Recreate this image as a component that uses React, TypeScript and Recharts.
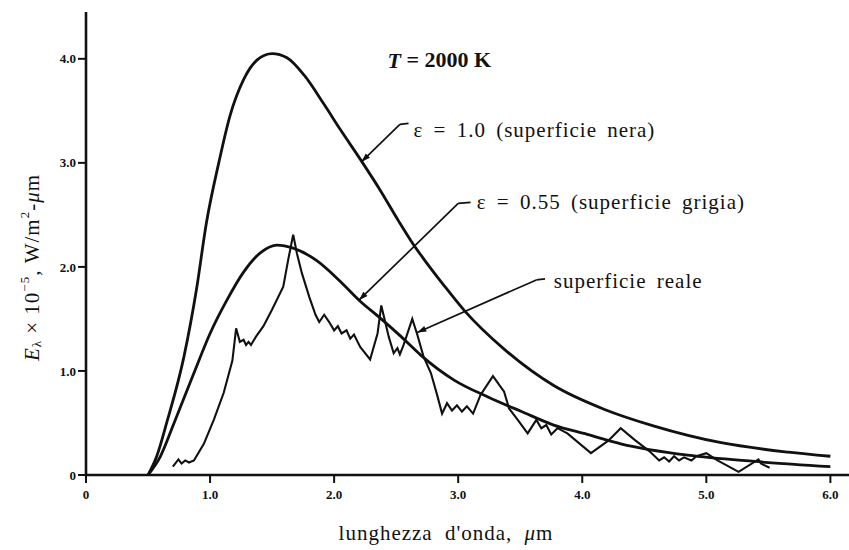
import React from "react";
import { LineChart, Line, XAxis, YAxis, ReferenceLine, ReferenceDot } from "recharts";

const FONT = '"Liberation Serif", "DejaVu Serif", "Times New Roman", serif';
const INK = "#111";

// ---- data (lambda in um, E_lambda x 1e-5 W/m2-um) ----
const blackLambda = [0.5, 0.57, 0.65, 0.79, 0.89, 0.97, 1.07, 1.16, 1.27, 1.38, 1.5, 1.62, 1.76, 1.92, 2.05, 2.23, 2.37, 2.52, 2.62, 2.72, 2.88, 3.05, 3.37, 3.77, 4.18, 4.58, 5.12, 5.66, 6.0];
const blackE = [0.0, 0.18, 0.5, 1.14, 1.78, 2.42, 3.0, 3.45, 3.8, 3.99, 4.05, 4.01, 3.84, 3.56, 3.32, 3.0, 2.74, 2.44, 2.25, 2.08, 1.83, 1.58, 1.21, 0.86, 0.63, 0.47, 0.31, 0.22, 0.18];

const greyLambda = [0.5, 0.6, 0.71, 0.87, 1.0, 1.14, 1.27, 1.41, 1.54, 1.67, 1.86, 2.05, 2.21, 2.37, 2.54, 2.7, 2.97, 3.24, 3.51, 3.77, 4.04, 4.31, 4.85, 5.39, 6.0];
const greyE = [0.0, 0.18, 0.5, 0.98, 1.36, 1.69, 1.95, 2.14, 2.21, 2.18, 2.06, 1.86, 1.67, 1.51, 1.33, 1.15, 0.91, 0.75, 0.61, 0.48, 0.39, 0.3, 0.19, 0.13, 0.08];

const realLambda = [0.7, 0.745, 0.77, 0.8, 0.83, 0.87, 0.95, 1.03, 1.11, 1.18, 1.21, 1.24, 1.27, 1.29, 1.31, 1.33, 1.37, 1.43, 1.5, 1.59, 1.63, 1.67, 1.7, 1.74, 1.8, 1.85, 1.88, 1.92, 1.96, 2.0, 2.03, 2.06, 2.1, 2.13, 2.16, 2.21, 2.29, 2.35, 2.38, 2.44, 2.48, 2.51, 2.53, 2.56, 2.63, 2.67, 2.72, 2.78, 2.83, 2.87, 2.91, 2.95, 2.99, 3.03, 3.07, 3.12, 3.18, 3.28, 3.37, 3.41, 3.48, 3.56, 3.63, 3.67, 3.71, 3.75, 3.8, 3.88, 4.07, 4.21, 4.31, 4.42, 4.54, 4.62, 4.66, 4.7, 4.74, 4.78, 4.82, 4.88, 4.92, 5.0, 5.09, 5.26, 5.42, 5.44, 5.51];
const realE = [0.08, 0.15, 0.11, 0.14, 0.12, 0.14, 0.3, 0.53, 0.79, 1.1, 1.41, 1.28, 1.3, 1.25, 1.28, 1.25, 1.33, 1.43, 1.59, 1.81, 2.07, 2.31, 2.13, 1.94, 1.71, 1.54, 1.47, 1.54, 1.47, 1.39, 1.43, 1.36, 1.39, 1.31, 1.35, 1.23, 1.11, 1.36, 1.63, 1.33, 1.17, 1.22, 1.16, 1.25, 1.5, 1.35, 1.14, 0.98, 0.77, 0.59, 0.69, 0.62, 0.67, 0.61, 0.66, 0.59, 0.77, 0.95, 0.8, 0.64, 0.53, 0.4, 0.53, 0.45, 0.48, 0.39, 0.45, 0.4, 0.21, 0.33, 0.45, 0.34, 0.23, 0.14, 0.17, 0.13, 0.18, 0.14, 0.17, 0.14, 0.18, 0.21, 0.14, 0.03, 0.15, 0.11, 0.07];

const xTicks = [0, 1, 2, 3, 4, 5, 6];
const yTicks = [0, 1, 2, 3, 4];

const toRows = (xs: number[], ys: number[]) => xs.map((x, i) => ({ x, y: ys[i] }));
const blackData = toRows(blackLambda, blackE);
const greyData = toRows(greyLambda, greyE);
const realData = toRows(realLambda, realE);

// leader lines: [tip, elbow, end] in data units
const leaders = [
  { id: "nera", pts: [[2.22, 3.01], [2.53, 3.37], [2.6, 3.38]] },
  { id: "grigia", pts: [[2.2, 1.68], [3.0, 2.61], [3.1, 2.62]] },
  { id: "reale", pts: [[2.67, 1.37], [3.63, 1.875], [3.7, 1.885]] },
];

// arrow-tipped line, arrow at (x1, y1)
function ArrowLine(props: any) {
  const { x1, y1, x2, y2 } = props;
  if ([x1, y1, x2, y2].some((v) => typeof v !== "number" || isNaN(v))) return null;
  const a = Math.atan2(y1 - y2, x1 - x2);
  const len = 9;
  const half = 3;
  const bx = x1 - len * Math.cos(a);
  const by = y1 - len * Math.sin(a);
  const px = -Math.sin(a) * half;
  const py = Math.cos(a) * half;
  return (
    <g>
      <line x1={x1} y1={y1} x2={x2} y2={y2} stroke={INK} strokeWidth={1.7} />
      <polygon points={`${x1},${y1} ${bx + px},${by + py} ${bx - px},${by - py}`} fill={INK} />
    </g>
  );
}

function PlainLine(props: any) {
  const { x1, y1, x2, y2 } = props;
  if ([x1, y1, x2, y2].some((v) => typeof v !== "number" || isNaN(v))) return null;
  return <line x1={x1} y1={y1} x2={x2} y2={y2} stroke={INK} strokeWidth={1.7} />;
}

const textLabel = (children: React.ReactNode, bold = false) => (props: any) => {
  const vb = props.viewBox || {};
  return (
    <text
      x={vb.x}
      y={vb.y}
      dominantBaseline="central"
      fontFamily={FONT}
      fontSize={bold ? 22 : 21}
      fontWeight={bold ? "bold" : "normal"}
      letterSpacing={bold ? 0 : 1}
      wordSpacing={bold ? 0 : 4}
      fill={INK}
    >
      {children}
    </text>
  );
};

const YTitle = (props: any) => {
  const vb = props.viewBox || { x: 0, y: 0, width: 0, height: 0 };
  const cx = vb.x + 6;
  const cy = vb.y + vb.height / 2 + 24;
  return (
    <text
      x={cx}
      y={cy}
      transform={`rotate(-90, ${cx}, ${cy})`}
      textAnchor="middle"
      dominantBaseline="central"
      fontFamily={FONT}
      fontSize={21}
      letterSpacing={1}
      fill={INK}
    >
      <tspan fontStyle="italic">E</tspan>
      <tspan fontSize={13} dy={4}>λ</tspan>
      <tspan dy={-4}> × 10</tspan>
      <tspan fontSize={13} dy={-8}>−5</tspan>
      <tspan dy={8}>,  W/m</tspan>
      <tspan fontSize={13} dy={-8}>2</tspan>
      <tspan dy={8}>-</tspan>
      <tspan fontStyle="italic">μ</tspan>
      <tspan>m</tspan>
    </text>
  );
};

const XTitle = (props: any) => {
  const vb = props.viewBox || { x: 0, y: 0, width: 0, height: 0 };
  return (
    <text
      x={vb.x + 360}
      y={vb.y + 58}
      textAnchor="middle"
      dominantBaseline="central"
      fontFamily={FONT}
      fontSize={21}
      letterSpacing={1}
      wordSpacing={6}
      fill={INK}
    >
      lunghezza d'onda, <tspan fontStyle="italic">μ</tspan>m
    </text>
  );
};

const fmt = (v: number) => (v === 0 ? "0" : v.toFixed(1));
const tickStyle = { fontFamily: FONT, fontSize: 13, fontWeight: "bold", fill: INK };

export default function App() {
  return (
    <div style={{ position: "absolute", left: 0, top: 0, width: 849, height: 550, background: "#fff" }}>
      <LineChart width={849} height={550} margin={{ top: 12, right: 0, bottom: 35, left: 26 }}>
        <XAxis
          type="number"
          dataKey="x"
          domain={[0, 6.15]}
          ticks={xTicks}
          tickFormatter={fmt}
          allowDataOverflow
          height={40}
          stroke={INK}
          strokeWidth={2.6}
          tickSize={8}
          tick={{ ...tickStyle, dy: 5 }}
          tickLine={{ stroke: INK, strokeWidth: 2 }}
          label={<XTitle />}
        />
        <YAxis
          type="number"
          dataKey="y"
          domain={[0, 4.45]}
          ticks={yTicks}
          tickFormatter={fmt}
          allowDataOverflow
          width={60}
          stroke={INK}
          strokeWidth={2.6}
          tickSize={8}
          tick={tickStyle}
          tickLine={{ stroke: INK, strokeWidth: 2 }}
          label={<YTitle />}
        />
        <Line data={blackData} dataKey="y" type="monotone" stroke={INK} strokeWidth={2.8} dot={false} isAnimationActive={false} />
        <Line data={greyData} dataKey="y" type="monotone" stroke={INK} strokeWidth={2.8} dot={false} isAnimationActive={false} />
        <Line data={realData} dataKey="y" type="linear" stroke={INK} strokeWidth={2.1} dot={false} isAnimationActive={false} />
        {leaders.map((l) => (
          <ReferenceLine
            key={l.id + "a"}
            segment={[{ x: l.pts[0][0], y: l.pts[0][1] }, { x: l.pts[1][0], y: l.pts[1][1] }]}
            shape={<ArrowLine />}
          />
        ))}
        {leaders.map((l) => (
          <ReferenceLine
            key={l.id + "b"}
            segment={[{ x: l.pts[1][0], y: l.pts[1][1] }, { x: l.pts[2][0], y: l.pts[2][1] }]}
            shape={<PlainLine />}
          />
        ))}
        <ReferenceDot
          x={2.43}
          y={3.99}
          r={0}
          stroke="none"
          label={{
            content: textLabel(
              <>
                <tspan fontStyle="italic">T</tspan> = 2000 K
              </>,
              true
            ),
          }}
        />
        <ReferenceDot
          x={2.64}
          y={3.32}
          r={0}
          stroke="none"
          label={{ content: textLabel(<>ε = 1.0 (superficie nera)</>) }}
        />
        <ReferenceDot
          x={3.15}
          y={2.62}
          r={0}
          stroke="none"
          label={{ content: textLabel(<>ε = 0.55 (superficie grigia)</>) }}
        />
        <ReferenceDot
          x={3.77}
          y={1.86}
          r={0}
          stroke="none"
          label={{ content: textLabel(<>superficie reale</>) }}
        />
      </LineChart>
    </div>
  );
}
